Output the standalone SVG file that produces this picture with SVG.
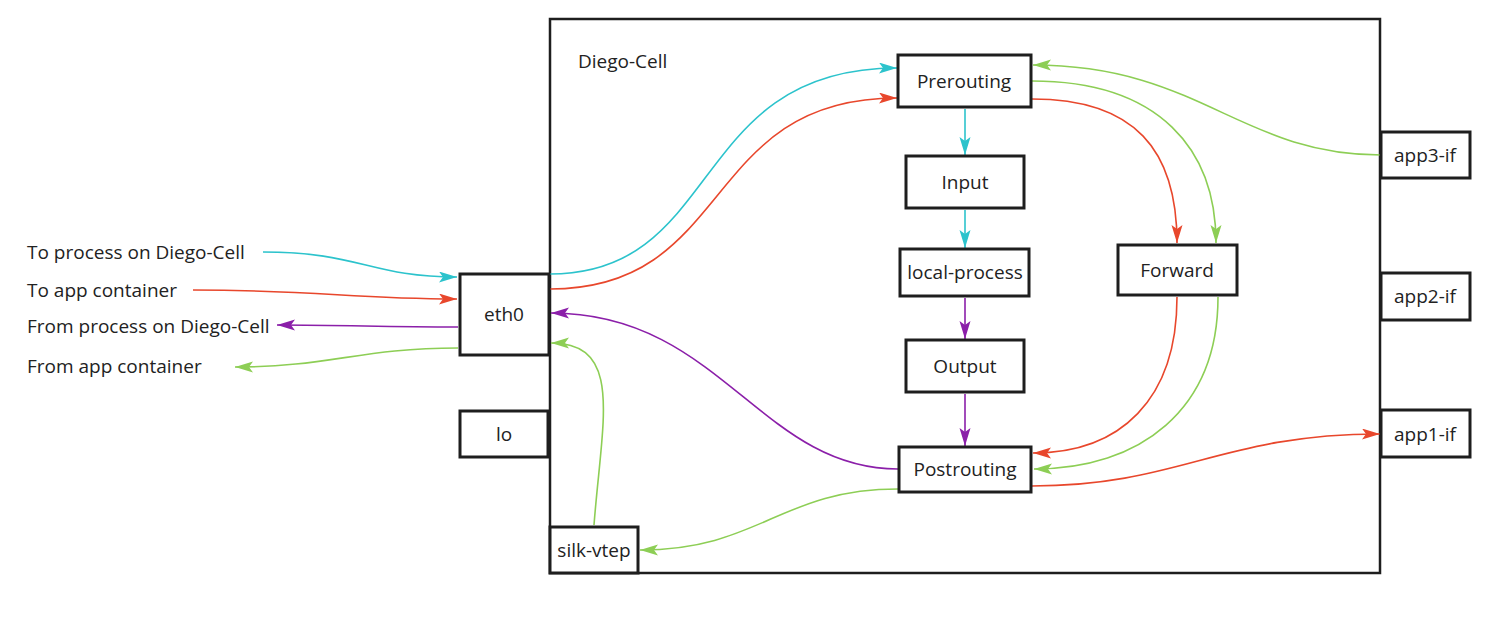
<svg xmlns="http://www.w3.org/2000/svg" width="1508" height="621" viewBox="0 0 1508 621">
<defs>
<style>
.box{fill:#fff;stroke:#1e1e1e;stroke-width:3}
.container{fill:#fff;stroke:#1e1e1e;stroke-width:2.5}
text{font-family:"Open Sans","Noto Sans","Liberation Sans",sans-serif;font-size:19px;fill:#222}
.c{text-anchor:middle;dominant-baseline:central}
.l{dominant-baseline:central}
.ln{fill:none;stroke-width:1.6}
.cy{stroke:#2cc3cc}
.rd{stroke:#e8472c}
.pu{stroke:#8b1fa9}
.gr{stroke:#8dce55}
</style>
<marker id="aC" markerUnits="userSpaceOnUse" markerWidth="20" markerHeight="12" refX="18" refY="5.5" orient="auto"><path d="M0,0 L18,5.5 L0,11 L4,5.5 Z" fill="#2cc3cc"/></marker>
<marker id="aR" markerUnits="userSpaceOnUse" markerWidth="20" markerHeight="12" refX="18" refY="5.5" orient="auto"><path d="M0,0 L18,5.5 L0,11 L4,5.5 Z" fill="#e8472c"/></marker>
<marker id="aP" markerUnits="userSpaceOnUse" markerWidth="20" markerHeight="12" refX="18" refY="5.5" orient="auto"><path d="M0,0 L18,5.5 L0,11 L4,5.5 Z" fill="#8b1fa9"/></marker>
<marker id="aG" markerUnits="userSpaceOnUse" markerWidth="20" markerHeight="12" refX="18" refY="5.5" orient="auto"><path d="M0,0 L18,5.5 L0,11 L4,5.5 Z" fill="#8dce55"/></marker>
</defs>
<rect width="1508" height="621" fill="#fff"/>

<g id="diego-cell">
<rect class="container" x="550" y="19" width="830" height="554"/>
<text class="l" x="578" y="61">Diego-Cell</text>
</g>

<g id="labels">
<text class="l" x="27" y="252">To process on Diego-Cell</text>
<text class="l" x="27" y="290">To app container</text>
<text class="l" x="27" y="326">From process on Diego-Cell</text>
<text class="l" x="27" y="366">From app container</text>
</g>

<g id="connectors">
<path class="ln cy" d="M263,252 C360,252 370,277 457,277" marker-end="url(#aC)"/>
<path class="ln rd" d="M193,290 C320,290 350,299 457,299" marker-end="url(#aR)"/>
<path class="ln pu" d="M458,327 C380,327 350,325 277,325" marker-end="url(#aP)"/>
<path class="ln gr" d="M458,348 C360,348 330,367 235,367" marker-end="url(#aG)"/>

<path class="ln cy" d="M550,274 C724,274 688,68 897,68" marker-end="url(#aC)"/>
<path class="ln rd" d="M550,289 C735,289 700,98 897,98" marker-end="url(#aR)"/>
<path class="ln pu" d="M898,469 C760,469 720,313 551,313" marker-end="url(#aP)"/>
<path class="ln gr" d="M594,525 C602,420 624,343 551,343" marker-end="url(#aG)"/>
<path class="ln gr" d="M898,489 C780,489 760,550 640,550" marker-end="url(#aG)"/>
<path class="ln rd" d="M1032,486 C1180,486 1220,434 1380,434" marker-end="url(#aR)"/>

<path class="ln rd" d="M1032,99 C1135,99 1177,150 1177,243" marker-end="url(#aR)"/>
<path class="ln gr" d="M1032,81 C1160,81 1216,150 1216,243" marker-end="url(#aG)"/>
<path class="ln gr" d="M1381,155 C1240,155 1200,65 1033,65" marker-end="url(#aG)"/>
<path class="ln rd" d="M1177,297 C1177,400 1120,453 1033,453" marker-end="url(#aR)"/>
<path class="ln gr" d="M1218,297 C1218,410 1140,469 1034,469" marker-end="url(#aG)"/>

<path class="ln cy" d="M965,109 L965,155" marker-end="url(#aC)"/>
<path class="ln cy" d="M965,210 L965,248" marker-end="url(#aC)"/>
<path class="ln pu" d="M965,298 L965,339" marker-end="url(#aP)"/>
<path class="ln pu" d="M965,394 L965,446" marker-end="url(#aP)"/>
</g>

<g id="eth0"><rect class="box" x="460" y="274" width="89" height="81"/><text class="c" x="504" y="314">eth0</text></g>
<g id="lo"><rect class="box" x="460" y="411" width="88" height="46"/><text class="c" x="504" y="434">lo</text></g>
<g id="silk-vtep"><rect class="box" x="550" y="527" width="88" height="46"/><text class="c" x="594" y="550">silk-vtep</text></g>
<g id="prerouting"><rect class="box" x="898" y="55" width="133" height="52"/><text class="c" x="964" y="81">Prerouting</text></g>
<g id="input"><rect class="box" x="906" y="156" width="118" height="52"/><text class="c" x="965" y="182">Input</text></g>
<g id="local-process"><rect class="box" x="900" y="249" width="129" height="47"/><text class="c" x="965" y="272">local-process</text></g>
<g id="output"><rect class="box" x="906" y="340" width="118" height="52"/><text class="c" x="965" y="366">Output</text></g>
<g id="postrouting"><rect class="box" x="899" y="447" width="132" height="45"/><text class="c" x="965" y="469">Postrouting</text></g>
<g id="forward"><rect class="box" x="1118" y="245" width="119" height="50"/><text class="c" x="1177" y="270">Forward</text></g>
<g id="app3-if"><rect class="box" x="1381" y="132" width="89" height="46"/><text class="c" x="1425" y="155">app3-if</text></g>
<g id="app2-if"><rect class="box" x="1381" y="273" width="89" height="47"/><text class="c" x="1425" y="296">app2-if</text></g>
<g id="app1-if"><rect class="box" x="1381" y="410" width="89" height="47"/><text class="c" x="1425" y="434">app1-if</text></g>
</svg>
